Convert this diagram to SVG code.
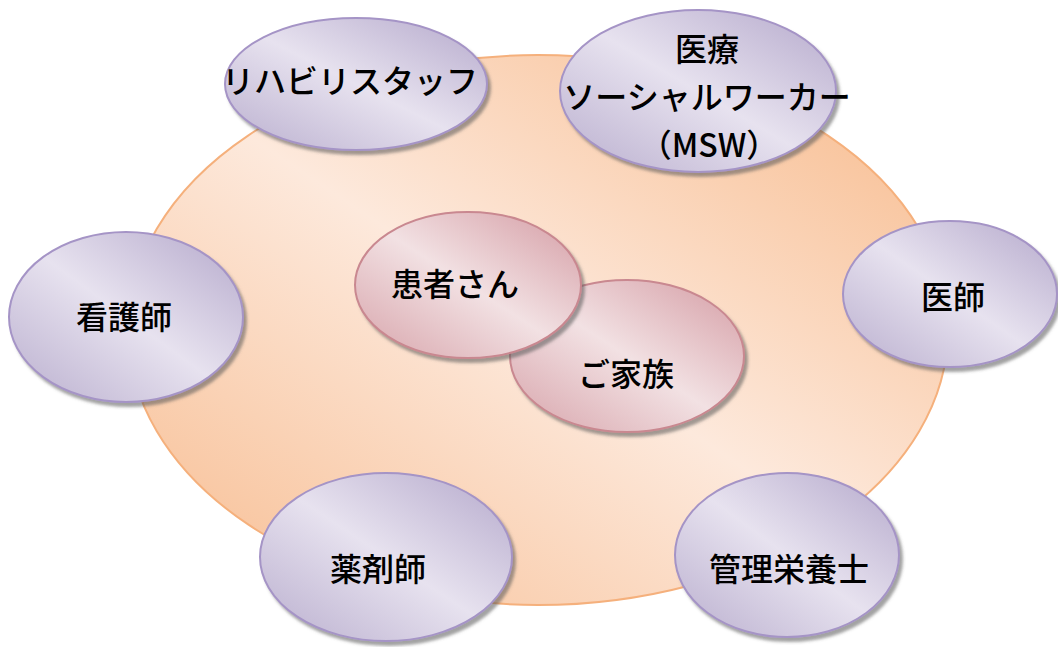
<svg xmlns="http://www.w3.org/2000/svg" width="1058" height="647" viewBox="0 0 1058 647">
<style>
text{font-family:"Noto Sans CJK JP","Noto Sans",sans-serif;font-size:32px;font-weight:500;fill:#000;text-anchor:middle;dominant-baseline:central}
.big{fill:url(#gOrange);stroke:#f5b07c;stroke-width:2}
.pur{fill:url(#gPurple);stroke:#a594c6;stroke-width:2;filter:url(#sh)}
.pink{fill:url(#gPink);stroke:#c98890;stroke-width:2;filter:url(#sh)}
</style>
<defs>
<linearGradient id="gOrange" x1="1" y1="0" x2="0" y2="1">
<stop offset="0" stop-color="#f7b888"/>
<stop offset="0.5" stop-color="#fde9dc"/>
<stop offset="1" stop-color="#f7bb8e"/>
</linearGradient>
<linearGradient id="gPurple" x1="1" y1="0" x2="0" y2="1">
<stop offset="0" stop-color="#b4a8cb"/>
<stop offset="0.5" stop-color="#e7e2ef"/>
<stop offset="1" stop-color="#b9aece"/>
</linearGradient>
<linearGradient id="gPink" x1="1" y1="0" x2="0" y2="1">
<stop offset="0" stop-color="#d49ba3"/>
<stop offset="0.5" stop-color="#f2e1e3"/>
<stop offset="1" stop-color="#d7a3aa"/>
</linearGradient>
<filter id="sh" x="-10%" y="-10%" width="125%" height="130%">
<feDropShadow dx="3" dy="4" stdDeviation="1.5" flood-color="#555" flood-opacity="0.55"/>
</filter>
</defs>
<g id="team-circle"><ellipse class="big" cx="538" cy="330" rx="410" ry="275"/></g>
<g id="connectors"></g>
<g id="rehab"><ellipse class="pur" cx="356" cy="84" rx="131" ry="66"/><text x="350" y="79">リハビリスタッフ</text></g>
<g id="msw"><ellipse class="pur" cx="698" cy="91" rx="138" ry="81"/><text x="707" y="47">医療</text><text x="707" y="95">ソーシャルワーカー</text><text x="709" y="143">（MSW）</text></g>
<g id="nurse"><ellipse class="pur" cx="126" cy="317" rx="117" ry="85"/><text x="124" y="315">看護師</text></g>
<g id="doctor"><ellipse class="pur" cx="950" cy="294" rx="107" ry="73"/><text x="953" y="295">医師</text></g>
<g id="pharmacist"><ellipse class="pur" cx="386" cy="557" rx="126" ry="84"/><text x="378" y="567">薬剤師</text></g>
<g id="dietitian"><ellipse class="pur" cx="787" cy="555" rx="112" ry="82"/><text x="789" y="567">管理栄養士</text></g>
<g id="family"><ellipse class="pink" cx="627" cy="356" rx="117" ry="76"/><text x="626" y="372">ご家族</text></g>
<g id="patient"><ellipse class="pink" cx="468" cy="285" rx="113" ry="73"/><text x="455" y="282">患者さん</text></g>
</svg>
